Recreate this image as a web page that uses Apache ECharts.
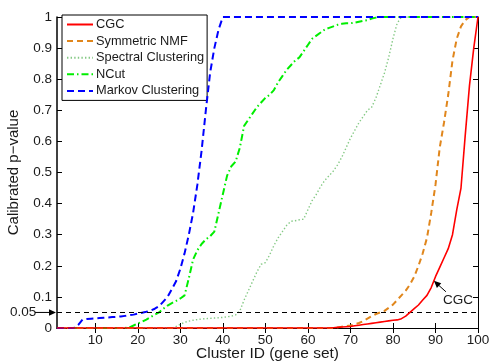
<!DOCTYPE html>
<html>
<head>
<meta charset="utf-8">
<script src="https://cdn.jsdelivr.net/npm/echarts@6/dist/echarts.min.js"></script>
<style>
  html, body { margin: 0; padding: 0; background: #fff; }
  #main { width: 489px; height: 362px; }
</style>
</head>
<body>
<div id="main"></div>
<script>
// cluster ids 1..100
const clusterIds = Array.from({ length: 100 }, (_, i) => i + 1);
const xTicks = [10, 20, 30, 40, 50, 60, 70, 80, 90, 100];

// calibrated p-values, one per cluster id
const cgc = [
  0, 0, 0, 0, 0, 0, 0, 0, 0, 0,
  0, 0, 0, 0, 0, 0, 0, 0, 0, 0,
  0, 0, 0, 0, 0, 0, 0, 0, 0, 0,
  0, 0, 0, 0, 0, 0, 0, 0, 0, 0,
  0, 0, 0, 0, 0, 0, 0, 0, 0, 0,
  0, 0, 0, 0, 0, 0, 0, 0, 0, 0,
  0, 0, 0, 0, 0, 0.001, 0.002, 0.003, 0.004, 0.005,
  0.007, 0.009, 0.011, 0.013, 0.015, 0.017, 0.019, 0.021, 0.023, 0.025,
  0.026, 0.03, 0.038, 0.05, 0.062, 0.074, 0.09, 0.105, 0.13, 0.165,
  0.195, 0.225, 0.255, 0.3, 0.38, 0.45, 0.62, 0.78, 0.9, 1
];
const nmf = [
  0, 0, 0, 0, 0, 0, 0, 0, 0, 0,
  0, 0, 0, 0, 0, 0, 0, 0, 0, 0,
  0, 0, 0, 0, 0, 0, 0, 0, 0, 0,
  0, 0, 0, 0, 0, 0, 0, 0, 0, 0,
  0, 0, 0, 0, 0, 0, 0, 0, 0, 0,
  0, 0, 0, 0, 0, 0, 0, 0, 0, 0,
  0, 0, 0, 0, 0, 0, 0.002, 0.004, 0.006, 0.008,
  0.012, 0.016, 0.022, 0.03, 0.038, 0.045, 0.05, 0.055, 0.065, 0.075,
  0.09, 0.105, 0.12, 0.14, 0.165, 0.2, 0.24, 0.29, 0.37, 0.46,
  0.58, 0.66, 0.75, 0.86, 0.93, 0.97, 0.99, 1, 1, 1
];
const spectral = [
  0, 0, 0, 0, 0, 0, 0, 0, 0, 0,
  0, 0, 0, 0, 0, 0, 0, 0, 0, 0,
  0, 0, 0, 0, 0, 0, 0, 0, 0.005, 0.012,
  0.018, 0.022, 0.025, 0.027, 0.029, 0.03, 0.031, 0.032, 0.033, 0.034,
  0.036, 0.038, 0.042, 0.055, 0.09, 0.12, 0.15, 0.18, 0.205, 0.21,
  0.235, 0.265, 0.29, 0.31, 0.33, 0.343, 0.345, 0.348, 0.35, 0.38,
  0.41, 0.43, 0.455, 0.475, 0.49, 0.505, 0.525, 0.55, 0.58, 0.61,
  0.635, 0.66, 0.68, 0.7, 0.71, 0.74, 0.78, 0.82, 0.87, 0.93,
  0.98, 1, 1, 1, 1, 1, 1, 1, 1, 1,
  1, 1, 1, 1, 1, 1, 1, 1, 1, 1
];
const ncut = [
  0, 0, 0, 0, 0, 0, 0, 0, 0, 0,
  0, 0, 0, 0, 0, 0, 0, 0.002, 0.008, 0.015,
  0.02, 0.027, 0.035, 0.043, 0.05, 0.062, 0.072, 0.08, 0.087, 0.095,
  0.105, 0.16, 0.22, 0.25, 0.27, 0.285, 0.295, 0.31, 0.37, 0.43,
  0.49, 0.52, 0.535, 0.58, 0.65, 0.67, 0.69, 0.71, 0.725, 0.74,
  0.75, 0.765, 0.79, 0.81, 0.83, 0.845, 0.86, 0.87, 0.89, 0.91,
  0.93, 0.94, 0.95, 0.96, 0.965, 0.97, 0.975, 0.978, 0.98, 0.98,
  0.982, 0.985, 0.988, 0.99, 0.995, 0.998, 1, 1, 1, 1,
  1, 1, 1, 1, 1, 1, 1, 1, 1, 1,
  1, 1, 1, 1, 1, 1, 1, 1, 1, 1
];
const markov = [
  0, 0, 0, 0, 0, 0.01, 0.027, 0.029, 0.03, 0.031,
  0.032, 0.033, 0.034, 0.035, 0.036, 0.037, 0.039, 0.041, 0.043, 0.046,
  0.049, 0.052, 0.056, 0.062, 0.07, 0.085, 0.1, 0.125, 0.15, 0.19,
  0.24, 0.3, 0.37, 0.46, 0.57, 0.7, 0.82, 0.9, 0.96, 1,
  1, 1, 1, 1, 1, 1, 1, 1, 1, 1,
  1, 1, 1, 1, 1, 1, 1, 1, 1, 1,
  1, 1, 1, 1, 1, 1, 1, 1, 1, 1,
  1, 1, 1, 1, 1, 1, 1, 1, 1, 1,
  1, 1, 1, 1, 1, 1, 1, 1, 1, 1,
  1, 1, 1, 1, 1, 1, 1, 1, 1, 1
];

const threshold = 0.05;
const cgcNote = { x: 89.4, y: 0.155 };

const FONT = 'Liberation Sans, Arial, sans-serif';
const TXT = '#1a1a1a';

const pairs = arr => clusterIds.map((id, i) => [id, arr[i]]);

const chart = echarts.init(document.getElementById('main'));

const axisCommon = {
  axisLine: { show: true, lineStyle: { color: '#000', width: 1 } },
  axisTick: { show: true, inside: true, length: 5, lineStyle: { color: '#000' } },
  splitLine: { show: false }
};

const option = {
  animation: false,
  backgroundColor: '#fff',
  textStyle: { fontFamily: FONT },
  grid: { left: 57, right: 11, top: 17, bottom: 34, outerBoundsMode: 'none', containLabel: false },
  legend: {
    orient: 'vertical',
    left: 62,
    top: 15,
    padding: [3, 3, 3, 4],
    itemWidth: 26,
    itemHeight: 12,
    itemGap: 3.6,
    itemStyle: { opacity: 0 },
    backgroundColor: '#fff',
    borderColor: '#000',
    borderWidth: 1,
    textStyle: { fontSize: 12.8, color: TXT, fontFamily: FONT, padding: [0, 0, 0, -2] },
    data: ['CGC', 'Symmetric NMF', 'Spectral Clustering', 'NCut', 'Markov Clustering']
  },
  xAxis: [
    {
      type: 'value',
      min: 1,
      max: 100,
      position: 'bottom',
      name: 'Cluster ID (gene set)',
      nameLocation: 'middle',
      nameGap: 18,
      nameMoveOverlap: false,
      nameTextStyle: { fontSize: 15.5, color: TXT, fontFamily: FONT },
      ...axisCommon,
      axisTick: { ...axisCommon.axisTick, customValues: xTicks },
      axisLabel: { customValues: xTicks, fontSize: 13.5, color: TXT, margin: 5, fontFamily: FONT }
    },
    {
      type: 'value',
      min: 1,
      max: 100,
      position: 'top',
      ...axisCommon,
      axisTick: { ...axisCommon.axisTick, customValues: xTicks },
      axisLabel: { show: false }
    }
  ],
  yAxis: [
    {
      type: 'value',
      min: 0,
      max: 1,
      interval: 0.1,
      position: 'left',
      name: 'Calibrated p\u2212value',
      nameLocation: 'middle',
      nameGap: 36,
      nameMoveOverlap: false,
      nameTextStyle: { fontSize: 15, color: TXT, fontFamily: FONT },
      ...axisCommon,
      axisLine: { show: true, lineStyle: { color: '#000', width: 1.5 } },
      axisLabel: { fontSize: 13.5, color: TXT, margin: 5, fontFamily: FONT }
    },
    {
      type: 'value',
      min: 0,
      max: 1,
      interval: 0.1,
      position: 'right',
      ...axisCommon,
      axisLabel: { show: false }
    }
  ],
  series: [
    {
      name: 'CGC',
      type: 'line',
      data: pairs(cgc),
      symbol: 'none',
      z: 5,
      color: '#ff0000',
      lineStyle: { width: 1.6, color: '#ff0000' },
      markLine: {
        silent: true,
        symbol: 'none',
        label: { show: false },
        lineStyle: { color: '#000', width: 1, type: [5, 4] },
        data: [{ yAxis: threshold }]
      }
    },
    {
      name: 'Symmetric NMF',
      type: 'line',
      data: pairs(nmf),
      symbol: 'none',
      z: 4,
      color: '#e0861c',
      lineStyle: { width: 2, color: '#e0861c', type: [6, 4] }
    },
    {
      name: 'Spectral Clustering',
      type: 'line',
      data: pairs(spectral),
      symbol: 'none',
      z: 3,
      color: '#85c985',
      lineStyle: { width: 1.4, color: '#85c985', type: [1.4, 2.2] }
    },
    {
      name: 'NCut',
      type: 'line',
      data: pairs(ncut),
      symbol: 'none',
      z: 3,
      color: '#00ee00',
      lineStyle: { width: 2, color: '#00ee00', type: [7, 3, 1.5, 3] }
    },
    {
      name: 'Markov Clustering',
      type: 'line',
      data: pairs(markov),
      symbol: 'none',
      z: 4,
      color: '#0000ff',
      lineStyle: { width: 2, color: '#0000ff', type: [7, 4] }
    }
  ]
};

chart.setOption(option);

// annotations placed through the chart's own scales
const [gx0, y05] = chart.convertToPixel({ xAxisIndex: 0, yAxisIndex: 0 }, [1, threshold]);
const [tipX, tipY] = chart.convertToPixel({ xAxisIndex: 0, yAxisIndex: 0 }, [cgcNote.x, cgcNote.y]);

function arrowHead(x, y, angle) {
  const len = 7, half = 3.2;
  const bx = x - len * Math.cos(angle), by = y - len * Math.sin(angle);
  const px = -Math.sin(angle) * half, py = Math.cos(angle) * half;
  return [[x, y], [bx + px, by + py], [bx - px, by - py]];
}

const a2 = Math.atan2(-12, -13);

chart.setOption({
  graphic: [
    {
      type: 'text',
      left: gx0 - 47,
      top: y05 - 7.5,
      style: { text: '0.05', fontSize: 13.5, fill: TXT, fontFamily: FONT }
    },
    {
      type: 'line',
      shape: { x1: gx0 - 22, y1: y05, x2: gx0 - 3, y2: y05 },
      style: { stroke: '#000', lineWidth: 1 }
    },
    {
      type: 'polygon',
      shape: { points: arrowHead(gx0 - 1, y05, 0) },
      style: { fill: '#000' }
    },
    {
      type: 'line',
      shape: { x1: tipX + 13, y1: tipY + 12, x2: tipX + 3, y2: tipY + 3 },
      style: { stroke: '#000', lineWidth: 1 },
      z: 10
    },
    {
      type: 'polygon',
      shape: { points: arrowHead(tipX + 1, tipY + 1, a2) },
      style: { fill: '#000' },
      z: 10
    },
    {
      type: 'text',
      left: tipX + 10,
      top: tipY + 13,
      style: { text: 'CGC', fontSize: 13.5, fill: TXT, fontFamily: FONT, backgroundColor: '#fff' },
      z: 10
    }
  ]
});
</script>
</body>
</html>
